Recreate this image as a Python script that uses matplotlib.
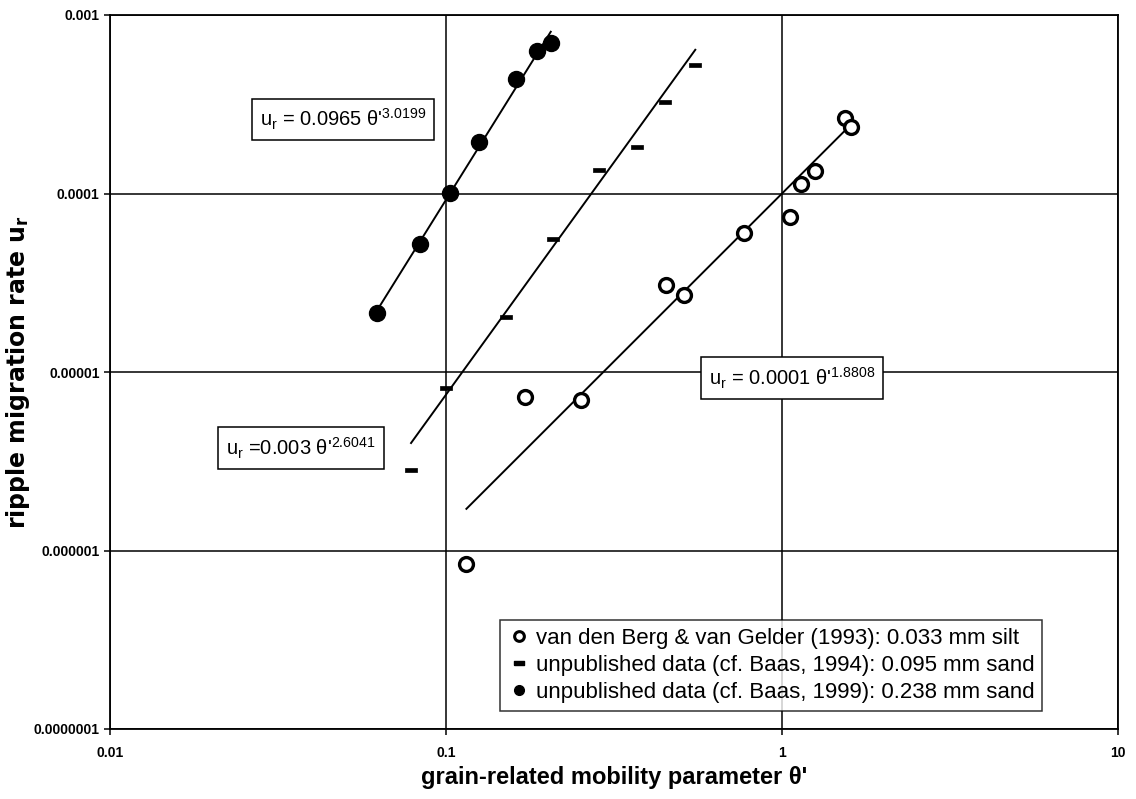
import matplotlib
matplotlib.use("Agg")
import matplotlib.pyplot as plt
import numpy as np

plt.rcParams['font.family'] = ['Liberation Sans', 'DejaVu Sans']
plt.rcParams['mathtext.fontset'] = 'custom'
plt.rcParams['mathtext.rm'] = 'Liberation Sans'
plt.rcParams['mathtext.it'] = 'Liberation Sans'
plt.rcParams['mathtext.bf'] = 'Liberation Sans:bold'

# Data: van den Berg & van Gelder (1993), 0.033 mm silt (open circles)
silt_x = [0.115, 0.172, 0.253, 0.453, 0.512, 0.770, 1.057, 1.138, 1.253, 1.538, 1.603]
silt_y = [8.4e-7, 7.2e-6, 7.0e-6, 3.08e-5, 2.71e-5, 6.03e-5, 7.41e-5, 1.13e-4, 1.34e-4, 2.65e-4, 2.36e-4]

# unpublished data (cf. Baas, 1994), 0.095 mm sand (dashes)
sand95_x = [0.0787, 0.0999, 0.1507, 0.2077, 0.286, 0.369, 0.447, 0.552]
sand95_y = [2.84e-6, 8.18e-6, 2.02e-5, 5.58e-5, 1.36e-4, 1.83e-4, 3.26e-4, 5.25e-4]

# unpublished data (cf. Baas, 1999), 0.238 mm sand (filled circles)
sand238_x = [0.0624, 0.0837, 0.1027, 0.1253, 0.1614, 0.186, 0.205]
sand238_y = [2.15e-5, 5.23e-5, 1.01e-4, 1.95e-4, 4.38e-4, 6.29e-4, 6.97e-4]

# power-law fits u_r = a * theta^b
fit_a = [0.0001, 0.003, 0.0965]
fit_b = [1.8808, 2.6041, 3.0199]
fit_labels = [r"u$_\mathregular{r}$ = 0.0001 θ'$^\mathregular{1.8808}$",
              r"u$_\mathregular{r}$ =0.003 θ'$^\mathregular{2.6041}$",
              r"u$_\mathregular{r}$ = 0.0965 θ'$^\mathregular{3.0199}$"]

legend_labels = ["van den Berg & van Gelder (1993): 0.033 mm silt",
                 "unpublished data (cf. Baas, 1994): 0.095 mm sand",
                 "unpublished data (cf. Baas, 1999): 0.238 mm sand"]

xticks = [0.01, 0.1, 1, 10]
xticklabels = ["0.01", "0.1", "1", "10"]
yticks = [1e-7, 1e-6, 1e-5, 1e-4, 1e-3]
yticklabels = ["0.0000001", "0.000001", "0.00001", "0.0001", "0.001"]

fig = plt.figure(figsize=(11.36, 7.99), dpi=100)
ax = fig.add_axes([110/1136, 70/799, 1008/1136, 714/799])
ax.set_xscale('log')
ax.set_yscale('log')
ax.set_xlim(0.01, 10)
ax.set_ylim(1e-7, 1e-3)

dash_marker = [(-1, -0.38), (1, -0.38), (1, 0.38), (-1, 0.38), (-1, -0.38)]

series = [(silt_x, silt_y), (sand95_x, sand95_y), (sand238_x, sand238_y)]

ax.plot(silt_x, silt_y, linestyle='none', marker='o', markersize=10,
        markerfacecolor='white', markeredgecolor='black', markeredgewidth=2.4, zorder=4)
ax.plot(sand95_x, sand95_y, linestyle='none', marker=dash_marker, markersize=8,
        markerfacecolor='black', markeredgecolor='black', markeredgewidth=0.5, zorder=4)
ax.plot(sand238_x, sand238_y, linestyle='none', marker='o', markersize=11.5,
        markerfacecolor='black', markeredgecolor='black', zorder=4)

for (sx, sy), a, b in zip(series, fit_a, fit_b):
    xx = np.logspace(np.log10(min(sx)), np.log10(max(sx)), 50)
    ax.plot(xx, a * xx ** b, color='black', linewidth=1.4, zorder=3)

# equation boxes
box_pos = [(0.594, 0.4916), (0.1151, 0.3936), (0.1488, 0.854)]
for (bx, by), lab in zip(box_pos, fit_labels):
    ax.text(bx, by, lab, transform=ax.transAxes, fontsize=14.5, ha='left', va='center',
            zorder=6,
            bbox=dict(boxstyle='square,pad=0.4', facecolor='white', edgecolor='black', linewidth=1.1))

ax.set_xticks(xticks)
ax.set_xticklabels(xticklabels)
ax.set_yticks(yticks)
ax.set_yticklabels(yticklabels)
ax.minorticks_off()
ax.tick_params(axis='both', direction='out', length=4, width=1.1, labelsize=10)
ax.tick_params(axis='x', pad=8)
for lab in ax.get_xticklabels() + ax.get_yticklabels():
    lab.set_fontweight('bold')

ax.grid(True, which='major', color='black', linewidth=1.1)
for s in ax.spines.values():
    s.set_linewidth(1.3)

ax.set_xlabel("grain-related mobility parameter θ'", fontsize=17, fontweight='bold')
ax.xaxis.set_label_coords(0.5, -0.052)
ax.set_ylabel("ripple migration rate u$_\\mathregular{r}$", fontsize=17, fontweight='bold',
              family=['DejaVu Sans'])
ax.yaxis.set_label_coords(-0.077, 0.5)

leg_h1, = ax.plot([], [], linestyle='none', marker='o', markersize=7, markerfacecolor='white',
                  markeredgecolor='black', markeredgewidth=2.2)
leg_h2, = ax.plot([], [], linestyle='none', marker=dash_marker, markersize=7.5,
                  markerfacecolor='black', markeredgecolor='black')
leg_h3, = ax.plot([], [], linestyle='none', marker='o', markersize=7,
                  markerfacecolor='black', markeredgecolor='black')
leg = ax.legend([leg_h1, leg_h2, leg_h3], legend_labels, loc='lower left',
                bbox_to_anchor=(0.387, 0.0252), fontsize=16, frameon=True,
                fancybox=False, handlelength=1.0, handletextpad=0.25,
                borderpad=0.35, labelspacing=0.27, borderaxespad=0)
leg.get_frame().set_edgecolor('black')
leg.get_frame().set_linewidth(1.1)
leg.set_zorder(7)

fig.savefig("out.png", dpi=100)
